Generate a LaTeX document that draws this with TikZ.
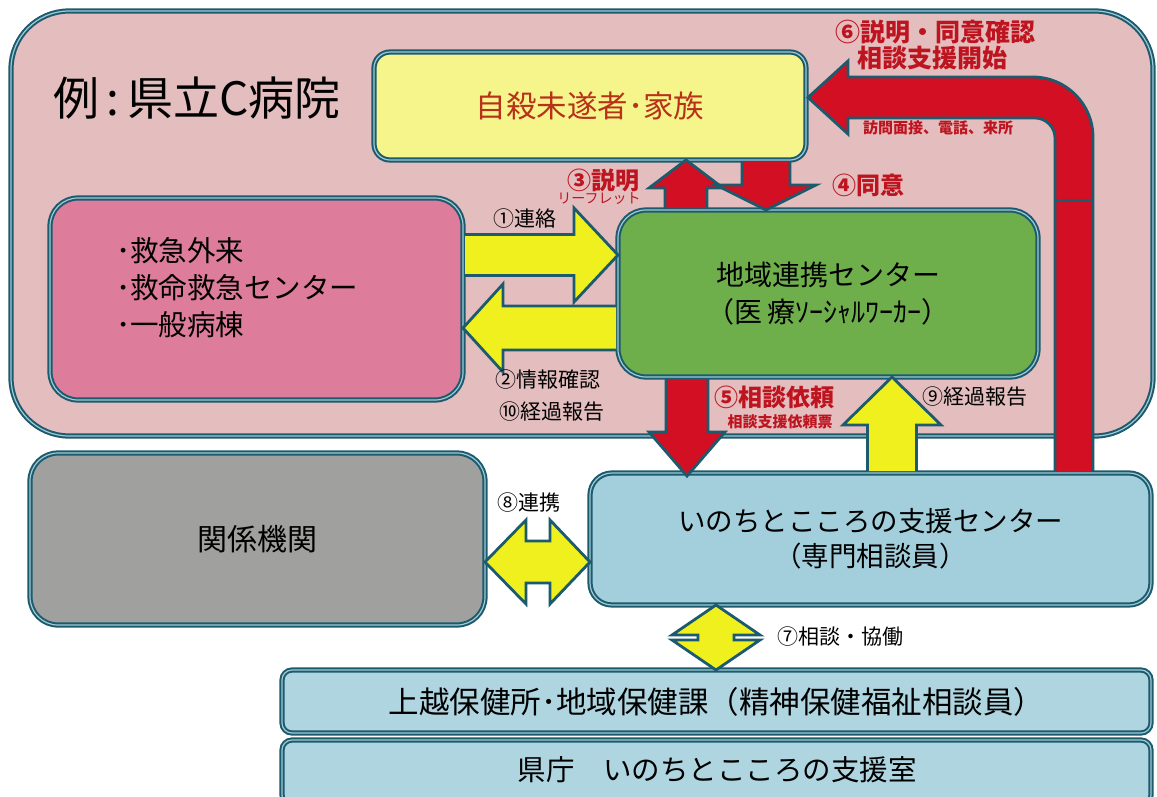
\documentclass[tikz,border=0pt]{standalone}
\usepackage{fontspec}
\setmainfont{Noto Sans CJK JP}
\usetikzlibrary{calc}
\definecolor{teal1}{HTML}{1C5A6E}
\definecolor{ringc}{HTML}{9FCAD3}
\definecolor{hospbg}{HTML}{E4BEBE}
\definecolor{famyc}{HTML}{F5F58C}
\definecolor{wardc}{HTML}{DE7C9C}
\definecolor{ctrc}{HTML}{6EAF4B}
\definecolor{orgc}{HTML}{A0A09E}
\definecolor{supc}{HTML}{A3CFDC}
\definecolor{barc}{HTML}{AED5E0}
\definecolor{yarrc}{HTML}{F0F01E}
\definecolor{rarrc}{HTML}{D20F23}
\definecolor{redtxt}{HTML}{BE1420}
\definecolor{famytxt}{HTML}{B8321A}
\begin{document}
\begin{tikzpicture}[x=1pt,y=-1pt,
  box/.style={draw=teal1, line width=2pt, double=ringc, double distance=1.2pt,
              rectangle, inner sep=0pt, outer sep=0pt},
  yarr/.style={fill=yarrc, draw=teal1, line width=2.8pt},
  rarr/.style={fill=rarrc, draw=teal1, line width=2.8pt},
  lbl/.style={font=\fontsize{21}{24}\selectfont, text=black, inner sep=0pt},
  rlbl/.style={font=\fontsize{24}{28}\selectfont\bfseries, text=redtxt, inner sep=0pt},
  slbl/.style={font=\fontsize{15}{18}\selectfont\bfseries, text=redtxt, inner sep=0pt},
]
\useasboundingbox (0,0) rectangle (1157,796);
\fill[white] (0,0) rectangle (1157,796);

% hospital frame
\node[box, fill=hospbg, minimum width=1142pt, minimum height=425pt, rounded corners=58pt] (hosp) at (582,223.5) {};
\node[font=\fontsize{46}{52}\selectfont, inner sep=0pt] (title) at (197,98) {例\,:\,県立C病院};

% boxes inside hospital
\node[box, fill=famyc, minimum width=432pt, minimum height=108pt, rounded corners=16pt,
      font=\fontsize{30.5}{34}\selectfont, text=famytxt] (famy) at (590,106) {自殺未遂者･家族};
\node[box, fill=wardc, minimum width=413pt, minimum height=202pt, rounded corners=28pt] (ward) at (256.5,299) {};
\node[anchor=west, align=left, inner sep=0pt, font=\fontsize{28.5}{37}\selectfont] (wardtxt) at (116,288)
  {･救急外来\\･救命救急センター\\･一般病棟};
\node[box, fill=ctrc, minimum width=420pt, minimum height=167pt, rounded corners=28pt,
      align=center, font=\fontsize{28}{37}\selectfont] (ctr) at (828,293.5)
  {地域連携センター\\（医\hspace{6pt}療ｿｰｼｬﾙﾜｰｶｰ）};

% arrows 1-4
\coordinate (a1s) at (ward.east |- 0,255);
\coordinate (a1e) at (ctr.west |- 0,255);
\filldraw[yarr] ($(a1s)+(2,-20.5)$) -- ($(a1e)+(-44,-20.5)$) -- ($(a1e)+(-44,-47)$) -- (a1e)
  -- ($(a1e)+(-44,47)$) -- ($(a1e)+(-44,20.5)$) -- ($(a1s)+(2,20.5)$);
\coordinate (a2s) at (ctr.west |- 0,328);
\coordinate (a2e) at (ward.east |- 0,328);
\filldraw[yarr] ($(a2s)+(-2,-22)$) -- ($(a2e)+(40,-22)$) -- ($(a2e)+(40,-44)$) -- (a2e)
  -- ($(a2e)+(40,44)$) -- ($(a2e)+(40,22)$) -- ($(a2s)+(-2,22)$);
\coordinate (a3s) at (ctr.north -| 686,0);
\coordinate (a3e) at (famy.south -| 686,0);
\filldraw[rarr] ($(a3s)+(-21,-2)$) -- ($(a3e)+(-21,28)$) -- ($(a3e)+(-37,28)$) -- (a3e)
  -- ($(a3e)+(37,28)$) -- ($(a3e)+(21,28)$) -- ($(a3s)+(21,-2)$);
\coordinate (a4s) at (famy.south -| 766,0);
\coordinate (a4e) at (ctr.north -| 766,0);
\filldraw[rarr] ($(a4s)+(-24,2)$) -- ($(a4e)+(-24,-25)$) -- ($(a4e)+(-50,-25)$) -- (a4e)
  -- ($(a4e)+(50,-25)$) -- ($(a4e)+(24,-25)$) -- ($(a4s)+(24,2)$);

% outside boxes
\node[box, fill=orgc, minimum width=455pt, minimum height=172pt, rounded corners=28pt,
      font=\fontsize{30}{34}\selectfont] (org) at (257.5,539) {関係機関};
\node[box, fill=supc, minimum width=561pt, minimum height=132pt, rounded corners=22pt,
      align=center, font=\fontsize{27.5}{35}\selectfont] (sup) at (870.5,539)
  {いのちとこころの支援センター\\（専門相談員）};
\node[box, fill=barc, minimum width=869pt, minimum height=63pt, rounded corners=10pt,
      font=\fontsize{30.5}{34}\selectfont] (bar1) at (716.5,701.5)
  {上越保健所･地域保健課（精神保健福祉相談員）};
\node[box, fill=barc, minimum width=869pt, minimum height=65pt, rounded corners=10pt] (bar2) at (716.5,772.5) {};
\node[font=\fontsize{28.5}{34}\selectfont, inner sep=0pt] (bar2txt) at (717,770) {県庁　いのちとこころの支援室};

% arrow 5 (down) and 9 (up)
\coordinate (a5s) at (ctr.south -| 687,0);
\coordinate (a5e) at (sup.north -| 687,0);
\filldraw[rarr] ($(a5s)+(-21,2)$) -- ($(a5e)+(-21,-41)$) -- ($(a5e)+(-38,-41)$) -- ($(a5e)+(0,3)$)
  -- ($(a5e)+(38,-41)$) -- ($(a5e)+(21,-41)$) -- ($(a5s)+(21,2)$);
\coordinate (a9s) at (sup.north -| 892,0);
\coordinate (a9e) at (ctr.south -| 892,0);
\filldraw[yarr] ($(a9s)+(-24.5,-2)$) -- ($(a9e)+(-24.5,48)$) -- ($(a9e)+(-49,48)$) -- (a9e)
  -- ($(a9e)+(49,48)$) -- ($(a9e)+(24.5,48)$) -- ($(a9s)+(24.5,-2)$);

% arrow 6 (bent)
\coordinate (t6) at (famy.east |- 0,97.5);
\coordinate (b6) at (sup.north -| 1074,0);
\filldraw[rarr] ($(b6)+(-19,-2)$) -- ($(t6)+(249,40.5)$)
  .. controls ($(t6)+(249,29.5)$) and ($(t6)+(240,20.5)$) .. ($(t6)+(229,20.5)$)
  -- ($(t6)+(42,20.5)$) -- ($(t6)+(42,36.5)$) -- ($(t6)+(2,0)$) -- ($(t6)+(42,-36.5)$)
  -- ($(t6)+(42,-20.5)$) -- ($(t6)+(227,-20.5)$)
  .. controls ($(t6)+(260,-20.5)$) and ($(t6)+(287,6.5)$) .. ($(t6)+(287,39.5)$)
  -- ($(b6)+(19,-2)$);
\draw[teal1, line width=2.5pt] ($(t6)+(249,102.5)$) -- ($(t6)+(287,102.5)$);

% arrow 8 (double, horizontal)
\coordinate (a8l) at (org.east |- 0,562);
\coordinate (a8r) at (sup.west |- 0,562);
\filldraw[yarr] (a8l) -- ($(a8l)+(41,-42)$) -- ($(a8l)+(41,-21)$) -- ($(a8r)+(-40,-21)$)
  -- ($(a8r)+(-40,-42)$) -- (a8r) -- ($(a8r)+(-40,42)$) -- ($(a8r)+(-40,21)$)
  -- ($(a8l)+(41,21)$) -- ($(a8l)+(41,42)$) -- cycle;

% arrow 7 (double, vertical)
\coordinate (a7t) at (sup.south -| 716,0);
\coordinate (a7b) at (bar1.north -| 716,0);
\filldraw[yarr] (a7t) -- ($(a7t)+(44,30)$) -- ($(a7t)+(18,30)$) -- ($(a7b)+(18,-30)$)
  -- ($(a7b)+(44,-30)$) -- (a7b) -- ($(a7b)+(-44,-30)$) -- ($(a7b)+(-18,-30)$)
  -- ($(a7t)+(-18,30)$) -- ($(a7t)+(-44,30)$) -- cycle;

% labels
\node[lbl] (l1) at (525,219) {①連絡};
\node[lbl] (l2) at (548,380) {②情報確認};
\node[lbl] (l10) at (552,412) {⑩経過報告};
\node[rlbl] (l3) at (603,180) {③説明};
\node[font=\fontsize{14}{16}\selectfont, text=redtxt, inner sep=0pt] (l3s) at (599,199) {リーフレット};
\node[rlbl] (l4) at (868,185) {④同意};
\node[rlbl] (l5) at (774,397) {⑤相談依頼};
\node[slbl] (l5s) at (780,422) {相談支援依頼票};
\node[lbl] (l9) at (975,397) {⑨経過報告};
\node[rlbl, font=\fontsize{25}{28}\selectfont\bfseries] (l6) at (935,32) {⑥説明・同意確認};
\node[rlbl, font=\fontsize{25}{28}\selectfont\bfseries] (l6b) at (932,58) {相談支援開始};
\node[slbl] (l6s) at (938,128) {訪問面接、電話、来所};
\node[lbl] (l8) at (529,503) {⑧連携};
\node[lbl] (l7) at (840,637) {⑦相談・協働};
\end{tikzpicture}
\end{document}
